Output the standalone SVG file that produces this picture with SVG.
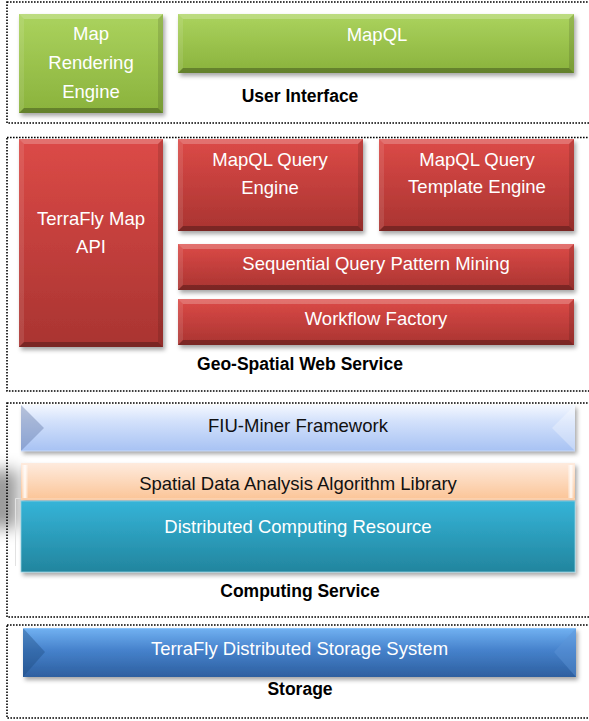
<svg xmlns="http://www.w3.org/2000/svg" width="589" height="721" viewBox="0 0 589 721">
<defs>
  <linearGradient id="gGreen" x1="0" y1="0" x2="0" y2="1">
    <stop offset="0" stop-color="#abd35e"/>
    <stop offset="1" stop-color="#8ab23c"/>
  </linearGradient>
  <linearGradient id="gRed" x1="0" y1="0" x2="0" y2="1">
    <stop offset="0" stop-color="#dc4a47"/>
    <stop offset="1" stop-color="#a93431"/>
  </linearGradient>
  <linearGradient id="gBlueLight" x1="0" y1="0" x2="0" y2="1">
    <stop offset="0" stop-color="#f4f8ff"/>
    <stop offset="0.35" stop-color="#d3e1fb"/>
    <stop offset="1" stop-color="#a7c2f3"/>
  </linearGradient>
  <linearGradient id="gPeach" x1="0" y1="0" x2="0" y2="1">
    <stop offset="0" stop-color="#feebde"/>
    <stop offset="1" stop-color="#fbc496"/>
  </linearGradient>
  <linearGradient id="gTeal" x1="0" y1="0" x2="0" y2="1">
    <stop offset="0" stop-color="#35b4d8"/>
    <stop offset="1" stop-color="#22859e"/>
  </linearGradient>
  <linearGradient id="gStore" x1="0" y1="0" x2="0" y2="1">
    <stop offset="0" stop-color="#72b2f2"/>
    <stop offset="0.45" stop-color="#4682cc"/>
    <stop offset="1" stop-color="#2d5f9f"/>
  </linearGradient>
  <linearGradient id="gGloss" x1="0" y1="0" x2="1" y2="0">
    <stop offset="0" stop-color="#ffffff" stop-opacity="0.2"/>
    <stop offset="0.5" stop-color="#ffffff" stop-opacity="0.9"/>
    <stop offset="1" stop-color="#ffffff" stop-opacity="0.1"/>
  </linearGradient>
  <filter id="shadow" x="-10%" y="-20%" width="120%" height="150%">
    <feDropShadow dx="2" dy="3" stdDeviation="2" flood-color="#000" flood-opacity="0.35"/>
  </filter>
  <filter id="blur" x="-100%" y="-100%" width="300%" height="300%">
    <feGaussianBlur stdDeviation="8"/>
  </filter>
</defs>
<style>
  .frame { fill: none; stroke: #000; stroke-width: 1.6; stroke-dasharray: 1.6 1.4; }
  .bt { fill: #fff; fill-opacity: 0.22; }
  .bl { fill: #fff; fill-opacity: 0.1; }
  .br { fill: #000; fill-opacity: 0.12; }
  .bb { fill: #000; fill-opacity: 0.28; }
  .w { font-family: "Liberation Sans", Arial, sans-serif; font-size: 18.5px; fill: #ffffff; text-anchor: middle; }
  .d { font-family: "Liberation Sans", Arial, sans-serif; font-size: 18.5px; fill: #111111; text-anchor: middle; }
  .lbl { font-family: "Liberation Sans", Arial, sans-serif; font-size: 17.5px; font-weight: bold; fill: #000; text-anchor: middle; }
</style>

<!-- layer frames -->
<g id="layer-ui">
  <rect class="frame" x="7" y="2" width="592" height="121"/>
  <text class="lbl" x="300" y="102">User Interface</text>
</g>
<g id="layer-web">
  <rect class="frame" x="7" y="137.5" width="592" height="253.5"/>
  <text class="lbl" x="300" y="370">Geo-Spatial Web Service</text>
</g>
<g id="layer-computing">
  <rect class="frame" x="7" y="403" width="592" height="214"/>
  <text class="lbl" x="300" y="597">Computing Service</text>
</g>
<g id="layer-storage">
  <rect class="frame" x="7" y="625" width="592" height="93"/>
  <text class="lbl" x="300" y="695">Storage</text>
</g>

<!-- User Interface nodes -->
<g id="map-rendering-engine">
  <rect x="19" y="14" width="144" height="99" fill="url(#gGreen)" filter="url(#shadow)"/>
  <polygon class="bt" points="19,14 163,14 158,19 24,19"/>
  <polygon class="bl" points="19,14 24,19 24,108 19,113"/>
  <polygon class="br" points="163,14 163,113 158,108 158,19"/>
  <polygon class="bb" points="19,113 163,113 158,108 24,108"/>
  <text class="w" x="91" y="40">Map</text>
  <text class="w" x="91" y="69">Rendering</text>
  <text class="w" x="91" y="98">Engine</text>
</g>
<g id="mapql">
  <rect x="178" y="14" width="396" height="59" fill="url(#gGreen)" filter="url(#shadow)"/>
  <polygon class="bt" points="178,14 574,14 569,19 183,19"/>
  <polygon class="bl" points="178,14 183,19 183,68 178,73"/>
  <polygon class="br" points="574,14 574,73 569,68 569,19"/>
  <polygon class="bb" points="178,73 574,73 569,68 183,68"/>
  <text class="w" x="377" y="41">MapQL</text>
</g>

<!-- Geo-Spatial Web Service nodes -->
<g id="terrafly-map-api">
  <rect x="19" y="139" width="144" height="208" fill="url(#gRed)" filter="url(#shadow)"/>
  <polygon class="bt" points="19,139 163,139 158,144 24,144"/>
  <polygon class="bl" points="19,139 24,144 24,342 19,347"/>
  <polygon class="br" points="163,139 163,347 158,342 158,144"/>
  <polygon class="bb" points="19,347 163,347 158,342 24,342"/>
  <text class="w" x="91" y="225">TerraFly Map</text>
  <text class="w" x="91" y="253">API</text>
</g>
<g id="mapql-query-engine">
  <rect x="178" y="139" width="185" height="92" fill="url(#gRed)" filter="url(#shadow)"/>
  <polygon class="bt" points="178,139 363,139 358,144 183,144"/>
  <polygon class="bl" points="178,139 183,144 183,226 178,231"/>
  <polygon class="br" points="363,139 363,231 358,226 358,144"/>
  <polygon class="bb" points="178,231 363,231 358,226 183,226"/>
  <text class="w" x="270" y="166">MapQL Query</text>
  <text class="w" x="270" y="194">Engine</text>
</g>
<g id="mapql-query-template-engine">
  <rect x="379" y="139" width="195" height="92" fill="url(#gRed)" filter="url(#shadow)"/>
  <polygon class="bt" points="379,139 574,139 569,144 384,144"/>
  <polygon class="bl" points="379,139 384,144 384,226 379,231"/>
  <polygon class="br" points="574,139 574,231 569,226 569,144"/>
  <polygon class="bb" points="379,231 574,231 569,226 384,226"/>
  <text class="w" x="477" y="166">MapQL Query</text>
  <text class="w" x="477" y="193">Template Engine</text>
</g>
<g id="sequential-query-pattern-mining">
  <rect x="178" y="244" width="396" height="46" fill="url(#gRed)" filter="url(#shadow)"/>
  <polygon class="bt" points="178,244 574,244 569,249 183,249"/>
  <polygon class="bl" points="178,244 183,249 183,285 178,290"/>
  <polygon class="br" points="574,244 574,290 569,285 569,249"/>
  <polygon class="bb" points="178,290 574,290 569,285 183,285"/>
  <text class="w" x="376" y="270">Sequential Query Pattern Mining</text>
</g>
<g id="workflow-factory">
  <rect x="178" y="299" width="396" height="46" fill="url(#gRed)" filter="url(#shadow)"/>
  <polygon class="bt" points="178,299 574,299 569,304 183,304"/>
  <polygon class="bl" points="178,299 183,304 183,340 178,345"/>
  <polygon class="br" points="574,299 574,345 569,340 569,304"/>
  <polygon class="bb" points="178,345 574,345 569,340 183,340"/>
  <text class="w" x="376" y="325">Workflow Factory</text>
</g>

<!-- Computing Service nodes -->
<g id="stray-shadow">
  <rect x="-14" y="470" width="32" height="58" fill="#000" fill-opacity="0.4" filter="url(#blur)"/>
  <path d="M15.5,566 V498.5 H21" fill="none" stroke="#e2e2e2" stroke-width="1"/>
</g>
<g id="fiu-miner-framework">
  <rect x="21" y="405" width="554" height="46" fill="url(#gBlueLight)" filter="url(#shadow)"/>
  <polygon points="21,405 44,428 21,451" fill="#5a6f9e" fill-opacity="0.38"/>
  <polygon points="575,405 552,428 575,451" fill="#ffffff" fill-opacity="0.3"/>
  <line x1="21" y1="451" x2="575" y2="451" stroke="#c9daf8" stroke-width="1"/>
  <text class="d" x="298" y="432">FIU-Miner Framework</text>
</g>
<g id="spatial-data-analysis-algorithm-library">
  <rect x="21" y="463" width="554" height="37" fill="url(#gPeach)" filter="url(#shadow)"/>
  <rect x="22" y="465" width="6" height="33" fill="url(#gGloss)"/>
  <rect x="568" y="465" width="6" height="33" fill="url(#gGloss)"/>
  <line x1="21" y1="499" x2="575" y2="499" stroke="#fcdcc2" stroke-width="1.2"/>
  <text class="d" x="298" y="490">Spatial Data Analysis Algorithm Library</text>
</g>
<g id="distributed-computing-resource">
  <rect x="21" y="501" width="554" height="71" fill="url(#gTeal)" stroke="#8fcfe0" stroke-width="0.8" filter="url(#shadow)"/>
  <text class="w" x="298" y="533">Distributed Computing Resource</text>
</g>

<!-- Storage node -->
<g id="terrafly-distributed-storage-system">
  <rect x="23" y="628" width="553" height="49" fill="url(#gStore)" filter="url(#shadow)"/>
  <polygon points="23,628 45,652 23,677" fill="#1f4a80" fill-opacity="0.4"/>
  <polygon points="576,628 554,652 576,677" fill="#5d95d6" fill-opacity="0.45"/>
  <line x1="23" y1="628.5" x2="576" y2="628.5" stroke="#8cc4fa" stroke-width="1"/>
  <text class="w" x="299.5" y="655">TerraFly Distributed Storage System</text>
</g>

<g id="connectors"></g>
</svg>
